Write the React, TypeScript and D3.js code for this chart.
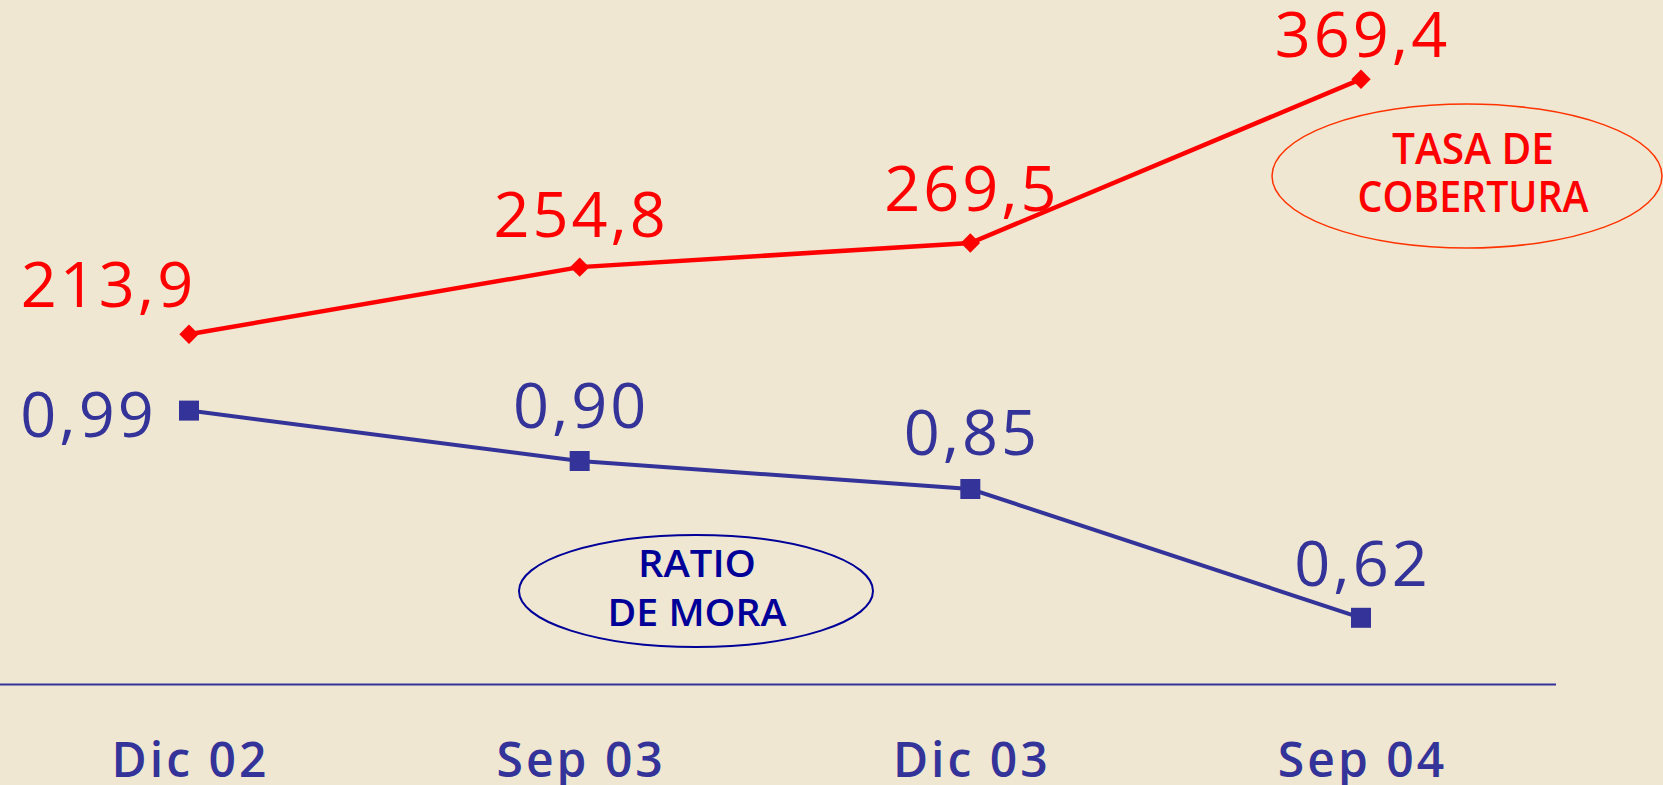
import React from "react";
import * as d3 from "d3";

const categories = ["Dic 02", "Sep 03", "Dic 03", "Sep 04"];
const coberturaValues = [213.9, 254.8, 269.5, 369.4];
const coberturaLabels = ["213,9", "254,8", "269,5", "369,4"];
const moraValues = [0.99, 0.9, 0.85, 0.62];
const moraLabels = ["0,99", "0,90", "0,85", "0,62"];

// label layout offsets (relative to point)
const redDx = [-82, 0, 0, 0];
const redDy = [-27, -30, -32, -22];
const blueDx = [-102, 0, 0, 0];
const blueDy = [26, -33, -34, -32];

const W = 1663;
const H = 785;
const BG = "#EFE7D1";
const BLUE = "#333399";
const RED = "#FF0000";
const NAVY = "#000099";
const FONT = "'Open Sans', 'DejaVu Sans', sans-serif";

export default function App() {
  const x = d3
    .scalePoint<string>()
    .domain(categories)
    .range([189, 1361]);
  const yRed = d3.scaleLinear().domain([0, 400]).range([685, 29]);
  const yBlue = d3.scaleLinear().domain([0.5, 1.5]).range([685, 125]);

  const redLine = d3
    .line<number>()
    .x((_, i) => x(categories[i]) as number)
    .y((d) => yRed(d));
  const blueLine = d3
    .line<number>()
    .x((_, i) => x(categories[i]) as number)
    .y((d) => yBlue(d));

  const diamond = d3.symbol().type(d3.symbolDiamond2).size(240)();

  return (
    <svg
      width={W}
      height={H}
      style={{ position: "absolute", left: 0, top: 0, display: "block" }}
    >
      <rect x={0} y={0} width={W} height={H} fill={BG} />

      {/* baseline */}
      <line x1={0} x2={1556} y1={684.5} y2={684.5} stroke={BLUE} strokeWidth={2} />

      {/* axis labels */}
      {categories.map((c) => (
        <text
          key={c}
          x={(x(c) as number) + 1.5}
          y={777}
          textAnchor="middle"
          fontFamily={FONT}
          fontWeight={600}
          fontSize={48}
          letterSpacing={3}
          fill={BLUE}
        >
          {c}
        </text>
      ))}

      {/* red series */}
      <path d={redLine(coberturaValues) || ""} fill="none" stroke={RED} strokeWidth={4.5} />
      {coberturaValues.map((v, i) => (
        <path
          key={"rd" + i}
          d={diamond || ""}
          transform={`translate(${x(categories[i])},${yRed(v)})`}
          fill={RED}
        />
      ))}
      {coberturaValues.map((v, i) => (
        <text
          key={"rl" + i}
          x={(x(categories[i]) as number) + redDx[i] + 1.5}
          y={yRed(v) + redDy[i]}
          textAnchor="middle"
          fontFamily={FONT}
          fontSize={63}
          letterSpacing={3}
          fill={RED}
        >
          {coberturaLabels[i]}
        </text>
      ))}

      {/* blue series */}
      <path d={blueLine(moraValues) || ""} fill="none" stroke={BLUE} strokeWidth={4} />
      {moraValues.map((v, i) => (
        <rect
          key={"bs" + i}
          x={(x(categories[i]) as number) - 10}
          y={yBlue(v) - 10}
          width={20}
          height={20}
          fill={BLUE}
        />
      ))}
      {moraValues.map((v, i) => (
        <text
          key={"bl" + i}
          x={(x(categories[i]) as number) + blueDx[i] + 1.5}
          y={yBlue(v) + blueDy[i]}
          textAnchor="middle"
          fontFamily={FONT}
          fontSize={63}
          letterSpacing={3}
          fill={BLUE}
        >
          {moraLabels[i]}
        </text>
      ))}

      {/* annotation: tasa de cobertura */}
      <ellipse cx={1467} cy={176} rx={195} ry={72} fill="none" stroke="#FF3300" strokeWidth={1.5} />
      <text x={1473} y={164} textAnchor="middle" fontFamily={FONT} fontWeight={600} fontSize={43} fill={RED} textLength={162} lengthAdjust="spacingAndGlyphs">
        TASA DE
      </text>
      <text x={1473} y={212} textAnchor="middle" fontFamily={FONT} fontWeight={600} fontSize={43} fill={RED} textLength={231} lengthAdjust="spacingAndGlyphs">
        COBERTURA
      </text>

      {/* annotation: ratio de mora */}
      <ellipse cx={696} cy={591} rx={177} ry={56} fill="none" stroke={NAVY} strokeWidth={2} />
      <text x={697} y={577} textAnchor="middle" fontFamily={FONT} fontWeight={600} fontSize={38} fill={NAVY} textLength={118} lengthAdjust="spacingAndGlyphs">
        RATIO
      </text>
      <text x={697} y={626} textAnchor="middle" fontFamily={FONT} fontWeight={600} fontSize={38} fill={NAVY} textLength={179} lengthAdjust="spacingAndGlyphs">
        DE MORA
      </text>
    </svg>
  );
}
